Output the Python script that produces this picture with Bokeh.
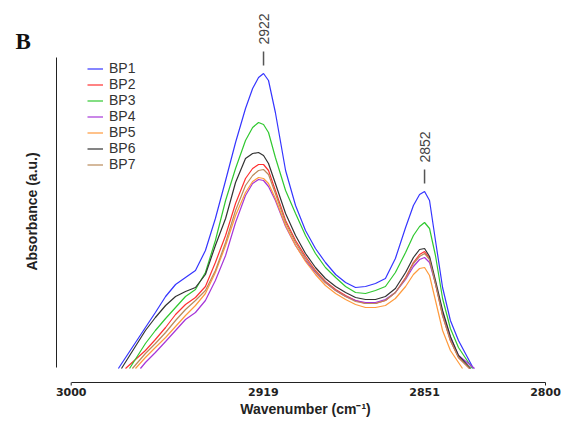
import math
from bokeh.plotting import figure
from bokeh.models import Range1d, FixedTicker, Legend, LegendItem
from bokeh.embed import file_html
from bokeh.resources import INLINE
from bokeh.core.properties import value

# ---------------- data (wavenumber in cm-1, absorbance in arbitrary units) ----------------
series_names = ["BP1", "BP2", "BP3", "BP4", "BP5", "BP6", "BP7"]
series_colors = ["#3535ff", "#ff3030", "#30c830", "#a636d8", "#ff9a3c", "#333333", "#b98a5a"]

wavenumber = [2968.7, 2964.5, 2960.2, 2956.0, 2951.8, 2947.6, 2943.4, 2939.2, 2934.9, 2930.7,
              2926.5, 2923.5, 2921.0, 2918.9, 2916.8, 2913.9, 2909.6, 2905.4, 2901.2, 2897.0,
              2892.8, 2888.5, 2884.3, 2880.1, 2875.9, 2871.7, 2867.5, 2863.3, 2859.0, 2855.7,
              2853.1, 2851.0, 2848.9, 2846.4, 2843.4, 2840.1, 2836.7]

BP1 = [41, 56, 72, 84, 91, 98, 118, 150, 188, 226, 260, 280, 291, 295, 288, 256, 198, 163, 138, 120,
       106, 94, 86, 81, 82, 85, 90, 110, 141, 163, 174, 177, 168, 128, 81, 48, 28]
BP2 = [18, 29, 41, 54, 64, 71, 82, 106, 133, 165, 190, 200, 204, 204, 198, 178, 148, 128, 112, 98,
       87, 79, 73, 68, 65, 65, 68, 76, 91, 106, 114, 117, 110, 85, 53, 28, 11]
BP3 = [25, 38, 50, 61, 72, 79, 96, 128, 168, 200, 228, 241, 246, 244, 236, 211, 178, 155, 133, 115,
       101, 91, 82, 76, 75, 78, 82, 96, 116, 133, 142, 146, 140, 113, 70, 40, 21]
BP4 = [6, 16, 27, 38, 49, 56, 68, 88, 113, 146, 173, 185, 189, 188, 182, 168, 142, 123, 108, 96,
       86, 78, 72, 68, 66, 66, 69, 76, 89, 102, 109, 111, 106, 85, 56, 31, 13]
BP5 = [11, 21, 31, 42, 53, 63, 75, 96, 123, 153, 176, 187, 191, 190, 185, 170, 143, 123, 107, 94,
       83, 75, 69, 64, 61, 61, 63, 70, 82, 94, 100, 101, 93, 68, 38, 18, 6]
BP6 = [38, 51, 63, 72, 77, 81, 94, 123, 150, 186, 210, 215, 216, 213, 205, 185, 155, 133, 115, 101,
       90, 82, 76, 71, 69, 69, 72, 80, 96, 111, 119, 120, 112, 88, 58, 32, 13]
BP7 = [15, 25, 36, 48, 59, 68, 78, 98, 126, 158, 183, 193, 198, 199, 194, 175, 146, 126, 110, 97,
       86, 78, 72, 67, 65, 65, 68, 76, 90, 105, 112, 115, 109, 85, 53, 28, 11]

# wavenumbers where each trace leaves / re-enters the bottom of the plotted window
start_wn = [2980.1, 2977.1, 2975.4, 2970.8, 2972.9, 2978.8, 2974.2]
end_wn = [2830.4, 2832.0, 2830.8, 2829.9, 2835.0, 2831.6, 2832.0]

tick_values = [3000, 2919, 2851, 2800]
axis_end_ticks = [3000, 2800]
peak_labels = ["2922", "2852"]
peak_wn = [2918.9, 2851.0]

all_series = [BP1, BP2, BP3, BP4, BP5, BP6, BP7]

# ---------------- figure (frame fills the canvas, axes at fixed locations) ----------------
AXIS_Y = -14
p = figure(width=565, height=422, output_backend="svg", toolbar_location=None,
           x_range=Range1d(3029.81, 2791.57), y_range=Range1d(-54, 368),
           min_border_left=0, min_border_right=0, min_border_top=0, min_border_bottom=0)
p.outline_line_color = None
p.xgrid.visible = False
p.ygrid.visible = False
p.background_fill_color = "white"
p.border_fill_color = "white"

items = []
for name, col, ys, s, e in zip(series_names, series_colors, all_series, start_wn, end_wn):
    xs = [s] + wavenumber + [e]
    yy = [0] + ys + [0]
    r = p.line(xs, yy, line_color=col, line_width=1.2)
    items.append(LegendItem(label=name, renderers=[r]))

legend = Legend(items=items, location=(87, 250))
legend.border_line_color = None
legend.background_fill_alpha = 0
legend.padding = 0
legend.margin = 0
legend.spacing = 0
legend.label_height = 15
legend.glyph_height = 15
legend.glyph_width = 16
legend.label_standoff = 6
legend.label_text_font = "Liberation Sans"
legend.label_text_font_size = "14px"
legend.label_text_color = "#333333"
p.add_layout(legend)

# peak annotations
peak_y = [BP1[wavenumber.index(w)] for w in peak_wn]
p.segment(x0=peak_wn, y0=[v + 8 for v in peak_y], x1=peak_wn, y1=[v + 22 for v in peak_y],
          line_color="#555555", line_width=1.5)
p.text(x=peak_wn, y=[v + 29 for v in peak_y], text=peak_labels, angle=math.pi / 2,
       text_align="left", text_baseline="middle", text_font=value("Liberation Sans"),
       text_font_size="14px", text_color="#444444")

# small end caps of the x axis
p.segment(x0=axis_end_ticks, y0=[AXIS_Y] * len(axis_end_ticks),
          x1=axis_end_ticks, y1=[AXIS_Y - 3] * len(axis_end_ticks),
          line_color="#222222", line_width=1)

# panel letter
p.text(x=[3023.5], y=[327], text=["B"], text_font=value("Liberation Serif"),
       text_font_style="bold", text_font_size="23px", text_color="#111111",
       text_align="left", text_baseline="alphabetic")

# axis titles
p.text(x=[2901.2], y=[-40], text=["Wavenumber (cm\u207b\u00b9)"], text_font=value("Liberation Sans"),
       text_font_style="bold", text_font_size="14px", text_color="#222222",
       text_align="center", text_baseline="middle")
p.text(x=[3016.7], y=[157], text=["Absorbance (a.u.)"], angle=math.pi / 2,
       text_font=value("Liberation Sans"), text_font_style="bold", text_font_size="14px",
       text_color="#222222", text_align="center", text_baseline="middle")

# x axis
xa = p.xaxis[0]
xa.fixed_location = AXIS_Y
xa.ticker = FixedTicker(ticks=tick_values)
xa.bounds = (2800, 3000)
xa.axis_line_color = "#222222"
xa.major_tick_line_color = None
xa.minor_tick_line_color = None
xa.major_tick_out = 0
xa.major_tick_in = 0
xa.major_label_text_font = "DejaVu Sans"
xa.major_label_text_font_style = "bold"
xa.major_label_text_font_size = "11px"
xa.major_label_text_color = "#222222"
xa.major_label_standoff = 5

# y axis (line only)
ya = p.yaxis[0]
ya.fixed_location = 3006.2
ya.ticker = FixedTicker(ticks=[])
ya.bounds = (1, 311)
ya.axis_line_color = "#222222"
ya.major_tick_line_color = None
ya.minor_tick_line_color = None
ya.major_tick_out = 0
ya.major_tick_in = 0
ya.major_label_standoff = 0

open("out.html", "w").write(file_html(p, INLINE))
